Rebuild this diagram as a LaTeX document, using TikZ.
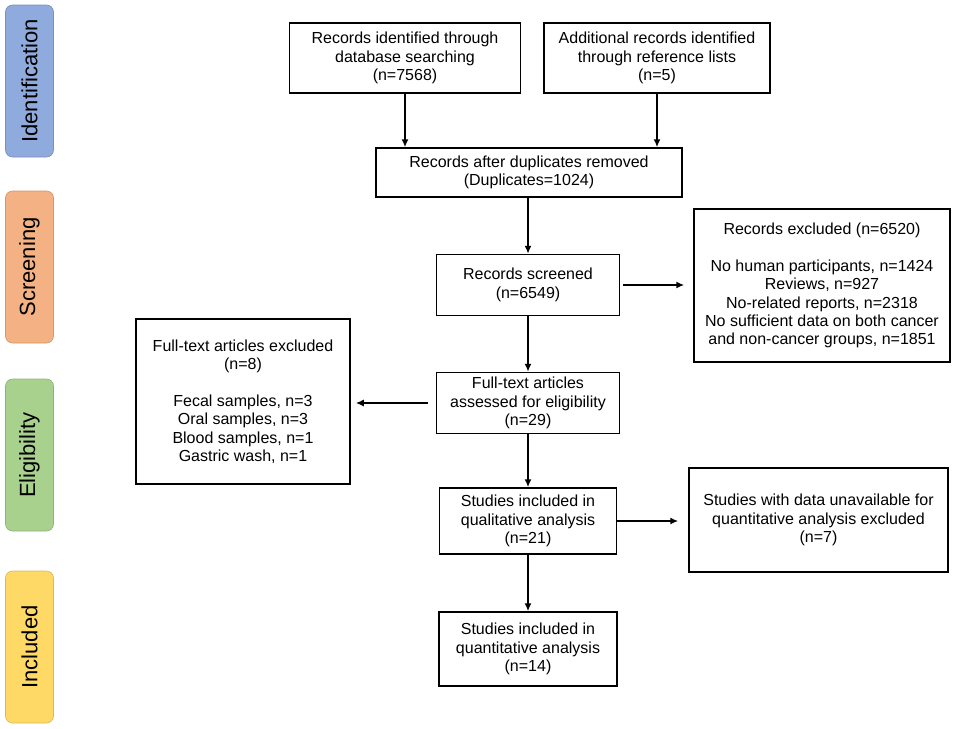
\documentclass[tikz,border=0pt]{standalone}
\usepackage{fontspec}
\setmainfont{Liberation Sans}
\usetikzlibrary{arrows.meta}

\definecolor{idblue}{HTML}{8FAADC}
\definecolor{scorange}{HTML}{F4B183}
\definecolor{elgreen}{HTML}{A9D18E}
\definecolor{inyellow}{HTML}{FFD966}

\tikzset{
    box/.style={draw, line width=1.5pt, align=center, inner sep=0pt,
        font=\fontsize{16}{18.4}\selectfont},
    stage/.style={draw=#1!85!black, fill=#1, rounded corners=7pt, line width=0.6pt,
        rotate=90, minimum width=152pt, minimum height=48pt, inner sep=0pt,
        font=\fontsize{22}{24}\selectfont},
    arr/.style={-{Latex[length=8pt,width=7pt]}, line width=1.6pt},
}

\begin{document}
\begin{tikzpicture}[x=1pt, y=-1pt]
    \useasboundingbox (0,0) rectangle (957,728);

    % stages on the left
    \node[stage=idblue]   (ident) at (29.5, 81)  {Identification};
    \node[stage=scorange] (scrn)  at (29.5, 267) {Screening};
    \node[stage=elgreen]  (elig)  at (29.5, 455) {Eligibility};
    \node[stage=inyellow] (incl)  at (29.5, 647) {Included};

    % main column
    \node[box, minimum width=231pt, minimum height=70pt] (dbase) at (405, 58)
        {Records identified through\\database searching\\(n=7568)};
    \node[box, minimum width=226pt, minimum height=70pt] (refs) at (657, 58)
        {Additional records identified\\through reference lists\\(n=5)};
    \node[box, minimum width=306pt, minimum height=49pt] (dup) at (529, 172.5)
        {Records after duplicates removed\\(Duplicates=1024)};
    \node[box, minimum width=183pt, minimum height=61pt] (scr) at (528, 285)
        {Records screened\\(n=6549)};
    \node[box, minimum width=183pt, minimum height=61pt] (full) at (528, 403)
        {Full-text articles\\assessed for eligibility\\(n=29)};
    \node[box, minimum width=177pt, minimum height=66pt] (qual) at (528, 521)
        {Studies included in\\qualitative analysis\\(n=21)};
    \node[box, minimum width=178pt, minimum height=74pt] (quant) at (528, 649)
        {Studies included in\\quantitative analysis\\(n=14)};

    % excluded boxes
    \node[box, minimum width=256pt, minimum height=153pt] (rexcl) at (822, 285.5)
        {Records excluded (n=6520)\\[18.4pt]No human participants, n=1424\\Reviews, n=927\\
         No-related reports, n=2318\\No sufficient data on both cancer\\
         and non-cancer groups, n=1851};
    \node[box, minimum width=214pt, minimum height=165pt] (fexcl) at (243, 401.5)
        {Full-text articles excluded\\(n=8)\\[18.4pt]Fecal samples, n=3\\Oral samples, n=3\\
         Blood samples, n=1\\Gastric wash, n=1};
    \node[box, minimum width=259pt, minimum height=104pt] (unav) at (818.5, 520)
        {Studies with data unavailable for\\quantitative analysis excluded\\(n=7)};

    % connectors
    \draw[arr] (dbase.south) -- (dbase.south |- dup.north);
    \draw[arr] (refs.south) -- (refs.south |- dup.north);
    \draw[arr] (scr.north |- dup.south) -- (scr.north);
    \draw[arr] (scr.south) -- (full.north);
    \draw[arr] (full.south) -- (qual.north);
    \draw[arr] (qual.south) -- (quant.north);
    \draw[arr, shorten <=3pt, shorten >=9pt] (scr.east) -- (scr.east -| rexcl.west);
    \draw[arr, shorten <=8pt, shorten >=5pt] (full.west) -- (full.west -| fexcl.east);
    \draw[arr, shorten >=10pt] (qual.east) -- (qual.east -| unav.west);
\end{tikzpicture}
\end{document}
